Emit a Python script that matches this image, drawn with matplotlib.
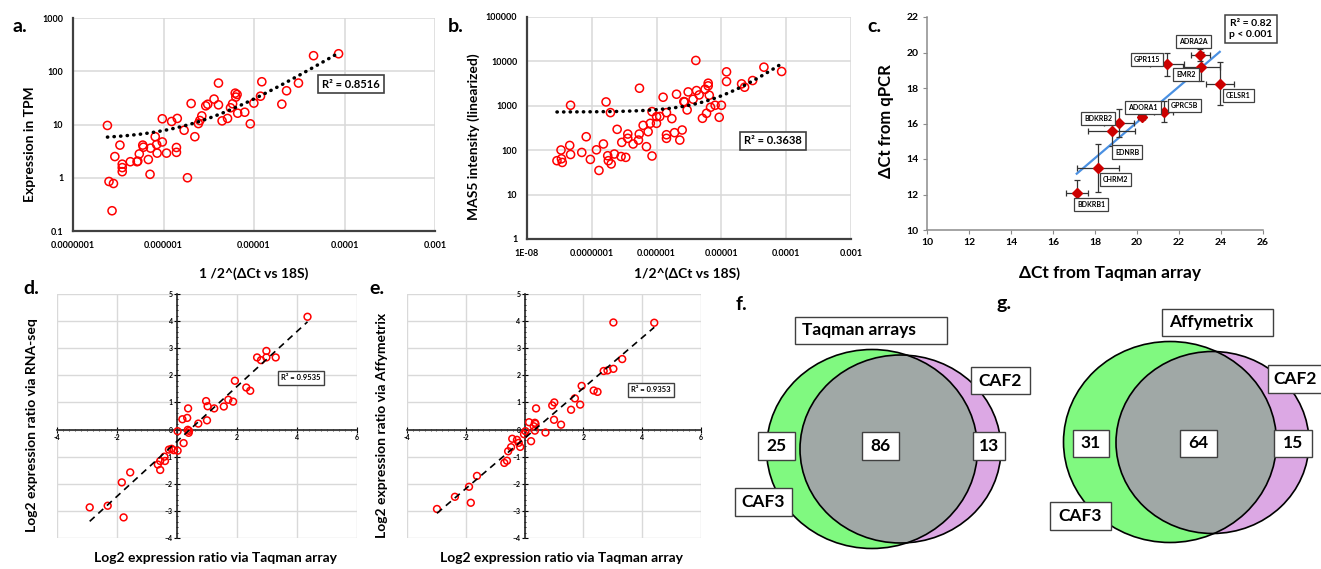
import matplotlib
matplotlib.use("Agg")
from matplotlib import pyplot as plt
from matplotlib.patches import Ellipse, Rectangle
from matplotlib.ticker import NullLocator, MultipleLocator
import numpy as np

plt.rcParams["font.family"] = ["Lato", "DejaVu Sans"]
plt.rcParams["font.weight"] = "bold"

# ---- data ----
# a. RNA-seq TPM vs 1/2^(dCt vs 18S)
a_x = [2.4e-7, 2.5e-7, 2.8e-7, 2.7e-7, 2.9e-7, 3.3e-7, 3.5e-7, 3.5e-7, 3.5e-7, 4.3e-7,
       5.1e-7, 5.2e-7, 5.4e-7, 5.9e-7, 6.0e-7, 6.8e-7, 7.2e-7, 7.1e-7, 8.1e-7, 8.4e-7,
       8.5e-7, 9.7e-7, 9.7e-7, 1.08e-6, 1.23e-6, 1.39e-6, 1.39e-6, 1.42e-6, 1.69e-6, 1.84e-6,
       2.02e-6, 2.22e-6, 2.43e-6, 2.52e-6, 2.65e-6, 2.93e-6, 3.08e-6, 3.62e-6, 4.05e-6, 4.05e-6,
       4.44e-6, 5.1e-6, 5.5e-6, 5.8e-6, 6.2e-6, 6.3e-6, 6.5e-6, 6.6e-6, 7.9e-6, 9.1e-6,
       9.96e-6, 1.18e-5, 1.22e-5, 2.03e-5, 2.29e-5, 3.1e-5, 4.55e-5, 8.6e-5]
a_y = [9.6, 0.85, 0.78, 0.24, 2.5, 4.1, 1.8, 1.55, 1.3, 2.0,
       2.0, 2.05, 2.8, 4.1, 3.75, 2.2, 3.6, 1.16, 5.9, 4.2,
       2.9, 4.7, 12.8, 2.9, 11.4, 3.7, 3.0, 13, 7.8, 1.0,
       24.8, 5.9, 10.4, 11.9, 14.5, 22.4, 24, 30, 23.4, 60,
       11.7, 13, 20.6, 24.5, 38.8, 32.7, 36.6, 16.3, 17, 10.3,
       25.2, 34, 63.5, 24.1, 43, 60, 196, 213]
a_trend = (2.498e6, 5.2)      # linear trend: slope, intercept
a_r2 = "R² = 0.8516"

# b. MAS5 intensity vs 1/2^(dCt vs 18S)
b_x = [2.9e-8, 3.4e-8, 3.5e-8, 3.35e-8, 4.56e-8, 4.7e-8, 4.7e-8, 7.0e-8, 8.2e-8, 9.5e-8,
       1.18e-7, 1.29e-7, 1.51e-7, 1.66e-7, 1.76e-7, 1.8e-7, 1.99e-7, 1.94e-7, 2.23e-7, 2.46e-7,
       2.83e-7, 2.9e-7, 3.34e-7, 3.59e-7, 3.59e-7, 4.34e-7, 5.25e-7, 5.4e-7, 5.44e-7, 6.2e-7,
       6.97e-7, 7.4e-7, 8.0e-7, 8.5e-7, 8.5e-7, 9.96e-7, 1.0e-6, 1.12e-6, 1.26e-6, 1.42e-6,
       1.42e-6, 1.42e-6, 1.72e-6, 1.89e-6, 2.03e-6, 2.28e-6, 2.48e-6, 2.63e-6, 2.7e-6, 2.96e-6,
       3.07e-6, 3.66e-6, 4.03e-6, 4.13e-6, 4.54e-6, 5.1e-6, 5.6e-6, 5.9e-6, 6.25e-6, 6.25e-6,
       6.5e-6, 6.8e-6, 8.0e-6, 9.25e-6, 1.0e-5, 1.2e-5, 1.2e-5, 2.05e-5, 2.28e-5, 3.03e-5,
       4.53e-5, 8.5e-5]
b_y = [58, 64, 53, 101, 128, 80, 1028, 89, 201, 62,
       102, 35, 138, 1222, 75, 58, 49, 702, 82, 295,
       72, 150, 69, 185, 231, 138, 169, 231, 2489, 363,
       120, 261, 403, 74, 740, 403, 570, 575, 1560, 702,
       223, 185, 514, 248, 1823, 169, 285, 1245, 1220, 807,
       2056, 1405, 10500, 2203, 1758, 523, 2360, 678, 3228, 2812,
       1730, 927, 1028, 551, 1028, 5820, 3524, 3119, 2624, 3707,
       7413, 5929]
b_trend = (9.57e7, 723)
b_r2 = "R² = 0.3638"

# c. qPCR vs Taqman array dCt
genes = ["BDKRB1", "CHRM2", "EDNRB", "BDKRB2", "ADORA1", "GPRC5B", "GPR115", "EMR2", "ADRA2A", "CELSR1"]
c_x = [17.13, 18.16, 18.79, 19.15, 20.22, 21.28, 21.44, 23.07, 23.02, 23.94]
c_y = [12.10, 13.48, 15.58, 16.02, 16.39, 16.67, 19.35, 19.21, 19.87, 18.24]
c_xerr = [0.53, 1.0, 1.1, 0.7, 0.15, 0.45, 0.8, 0.87, 0.46, 0.67]
c_yerr = [0.69, 1.34, 0.85, 0.8, 0.15, 0.6, 0.65, 0.8, 0.33, 1.2]
c_stats = "R² = 0.82\np < 0.001"

# d./e. log2 ratios
d_x = [-2.91, -2.31, -1.78, -1.84, -1.56, -0.64, -0.56, -0.56, -0.42, -0.40,
       -0.27, -0.18, -0.11, 0.02, 0.02, 0.18, 0.22, 0.34, 0.37, 0.36,
       0.39, 0.40, 0.71, 0.97, 1.0, 1.02, 1.24, 1.56, 1.71, 1.87,
       1.93, 2.31, 2.44, 2.67, 2.80, 2.98, 2.98, 3.29, 4.35]
d_y = [-2.87, -2.81, -3.24, -1.95, -1.58, -1.29, -1.16, -1.49, -1.0, -1.16,
       -0.74, -0.71, -0.76, -0.78, -0.06, 0.38, -0.50, 0.43, 0.78, -0.01,
       -0.12, -0.05, 0.22, 1.05, 0.34, 0.86, 0.78, 0.85, 1.10, 1.03,
       1.80, 1.55, 1.43, 2.66, 2.56, 2.90, 2.66, 2.66, 4.16]
d_r2 = "R² = 0.9535"
e_x = [-2.98, -2.37, -1.83, -1.89, -1.62, -0.69, -0.60, -0.56, -0.46, -0.42,
       -0.26, -0.20, -0.15, -0.02, 0.03, 0.15, 0.22, 0.31, 0.35, 0.37,
       0.35, 0.39, 0.71, 0.94, 1.01, 1.0, 1.24, 1.58, 1.71, 1.89,
       1.94, 2.35, 2.48, 2.69, 2.82, 3.02, 3.02, 3.32, 4.41]
e_y = [-2.93, -2.48, -2.70, -2.11, -1.71, -1.23, -1.15, -0.80, -0.65, -0.34,
       -0.38, -0.49, -0.64, -0.17, -0.06, 0.27, -0.43, 0.12, 0.25, 0.21,
       -0.04, 0.78, -0.11, 0.89, 1.0, 0.36, 0.18, 0.73, 1.15, 0.92,
       1.61, 1.44, 1.39, 2.16, 2.18, 2.24, 3.95, 2.60, 3.94]
e_r2 = "R² = 0.9353"

# f./g. Venn counts (CAF3 only, both, CAF2 only)
f_counts = [25, 86, 13]
g_counts = [31, 64, 15]
f_title = "Taqman arrays"
g_title = "Affymetrix"

# ---- layout helpers (figure pixels) ----
W, H = 1321, 569
fig = plt.figure(figsize=(W / 100, H / 100), dpi=100)


def rect(l, t, r, b):
    return [l / W, 1 - b / H, (r - l) / W, (b - t) / H]


def ftext(x, y, s, **kw):
    return fig.text(x / W, 1 - y / H, s, **kw)


def excel_log(ax, xt, xl, yt, yl):
    ax.set_xscale("log")
    ax.set_yscale("log")
    ax.set_xlim(xt[0], xt[-1])
    ax.set_ylim(yt[0], yt[-1])
    ax.set_xticks(xt, xl)
    ax.set_yticks(yt, yl)
    ax.xaxis.set_minor_locator(NullLocator())
    ax.yaxis.set_minor_locator(NullLocator())
    ax.grid(True, color="#d9d9d9", lw=1.1)
    ax.set_axisbelow(True)
    for s in ("top", "right"):
        ax.spines[s].set_visible(False)
    for s in ("left", "bottom"):
        ax.spines[s].set_color("#404040")
        ax.spines[s].set_linewidth(1.6)
    ax.tick_params(length=0, labelsize=6.5, pad=7)


def trend_log(ax, xs, tr):
    xx = np.logspace(np.log10(min(xs)), np.log10(max(xs)), 300)
    ax.plot(xx, tr[0] * xx + tr[1], color="black", lw=2.5,
            ls=(0, (0.1, 1.8)), dash_capstyle="round", zorder=4)


boxed = dict(boxstyle="square,pad=0.35", fc="white", ec="#404040", lw=1.2)

# ---- a ----
ax = fig.add_axes(rect(73, 18, 435, 231))
excel_log(ax, [1e-7, 1e-6, 1e-5, 1e-4, 1e-3],
          ["0.0000001", "0.000001", "0.00001", "0.0001", "0.001"],
          [0.1, 1, 10, 100, 1000], ["0.1", "1", "10", "100", "1000"])
ax.scatter(a_x, a_y, s=34, facecolors="none", edgecolors="red", linewidths=1.1, zorder=3)
trend_log(ax, a_x, a_trend)
ftext(351, 84, a_r2, fontsize=8, ha="center", va="center", bbox=boxed)
ftext(30, 144, "Expression in TPM", rotation=90, fontsize=10, ha="center", va="center")
ftext(254, 274, "1 /2^(ΔCt vs 18S)", fontsize=10, ha="center", va="center")
ftext(20, 26, "a.", fontsize=14, ha="center", va="center")

# ---- b ----
ax = fig.add_axes(rect(527, 17, 851, 239))
excel_log(ax, [1e-8, 1e-7, 1e-6, 1e-5, 1e-4, 1e-3],
          ["1E-08", "0.0000001", "0.000001", "0.00001", "0.0001", "0.001"],
          [1, 10, 100, 1000, 10000, 100000], ["1", "10", "100", "1000", "10000", "100000"])
ax.scatter(b_x, b_y, s=34, facecolors="none", edgecolors="red", linewidths=1.1, zorder=3)
trend_log(ax, b_x, b_trend)
ftext(773, 141, b_r2, fontsize=8, ha="center", va="center", bbox=boxed)
ftext(474, 137, "MAS5 intensity (linearized)", rotation=90, fontsize=10, ha="center", va="center")
ftext(687, 274, "1/2^(ΔCt vs 18S)", fontsize=10, ha="center", va="center")
ftext(456, 26, "b.", fontsize=14, ha="center", va="center")

# ---- c ----
ax = fig.add_axes(rect(927, 17, 1263, 230))
ax.set_xlim(10, 26)
ax.set_ylim(10, 22)
ax.set_xticks(range(10, 27, 2))
ax.set_yticks(range(10, 23, 2))
for s in ("top", "right"):
    ax.spines[s].set_visible(False)
for s in ("left", "bottom"):
    ax.spines[s].set_color("#8c8c8c")
    ax.spines[s].set_linewidth(1.1)
ax.tick_params(length=3, color="#8c8c8c", labelsize=7.5, pad=3)
fit = np.polyfit(c_x, c_y, 1)
xx = np.array([min(c_x), max(c_x)])
ax.plot(xx, np.polyval(fit, xx), color="#4a90e2", lw=1.6, zorder=2)
ax.errorbar(c_x, c_y, xerr=c_xerr, yerr=c_yerr, fmt="D", color="#cc0000", ms=5,
            ecolor="#333333", elinewidth=0.9, capsize=2.2, capthick=0.9, zorder=3)
label_off = [(0.69, -0.65), (0.81, -0.63), (0.74, -1.19), (-0.99, 0.25), (0.05, 0.52),
             (0.97, 0.33), (-0.97, 0.26), (-0.74, -0.43), (-0.32, 0.75), (0.87, -0.67)]
for g, x, y, (dx, dy) in zip(genes, c_x, c_y, label_off):
    ax.text(x + dx, y + dy, g, fontsize=5, ha="center", va="center", zorder=5,
            bbox=dict(boxstyle="square,pad=0.45", fc="white", ec="#404040", lw=0.9))
ftext(1251, 29, c_stats, fontsize=7.5, ha="center", va="center", linespacing=1.3,
      bbox=dict(boxstyle="square,pad=0.4", fc="white", ec="#404040", lw=1.1))
ftext(886, 121, "ΔCt from qPCR", rotation=90, fontsize=12, ha="center", va="center")
ftext(1110, 273, "ΔCt from Taqman array", fontsize=12.5, ha="center", va="center")
ftext(874, 26, "c.", fontsize=14, ha="center", va="center")


# ---- d / e ----
def ratio_panel(pos, xs, ys, r2, r2pos, ylab, ylabx, letter, letpos):
    ax = fig.add_axes(rect(*pos))
    ax.set_xlim(-4, 6)
    ax.set_ylim(-4, 5)
    ax.set_xticks([-4, -2, 0, 2, 4, 6], ["-4", "-2", "", "2", "4", "6"])
    ax.set_yticks(range(-4, 6))
    ax.xaxis.set_minor_locator(MultipleLocator(0.2))
    ax.yaxis.set_minor_locator(MultipleLocator(0.2))
    ax.grid(True, color="#d9d9d9", lw=1.0)
    ax.set_axisbelow(True)
    ax.spines["left"].set_position(("data", 0))
    ax.spines["bottom"].set_position(("data", 0))
    for s in ("top", "right"):
        ax.spines[s].set_visible(False)
    for s in ("left", "bottom"):
        ax.spines[s].set_color("#262626")
        ax.spines[s].set_linewidth(1.2)
    ax.tick_params(which="major", length=4, direction="inout", labelsize=5, pad=1)
    ax.tick_params(which="minor", length=2, direction="inout")
    ax.scatter(xs, ys, s=24, facecolors="none", edgecolors="red", linewidths=1.1, zorder=3)
    k = np.polyfit(xs, ys, 1)
    xx = np.array([min(xs), max(xs)])
    ax.plot(xx, np.polyval(k, xx), color="black", lw=1.2, ls=(0, (4, 3)), zorder=4)
    ftext(*r2pos, r2, fontsize=5.5, ha="center", va="center",
          bbox=dict(boxstyle="square,pad=0.4", fc="white", ec="#404040", lw=1.0))
    ftext(ylabx, 425, ylab, rotation=90, fontsize=10, ha="center", va="center")
    ftext((pos[0] + pos[2]) / 2 + 8, 558, "Log2 expression ratio via Taqman array",
          fontsize=10, ha="center", va="center")
    ftext(*letpos, letter, fontsize=14, ha="center", va="center")


ratio_panel((57, 294, 357, 538), d_x, d_y, d_r2, (301, 378),
            "Log2 expression ratio via RNA-seq", 32, "d.", (31, 289))
ratio_panel((407, 294, 701, 538), e_x, e_y, e_r2, (651, 390),
            "Log2 expression ratio via Affymetrix", 382, "e.", (377, 288))

# ---- f / g Venn ----
axv = fig.add_axes(rect(730, 280, 1321, 569))
axv.set_xlim(730, 1321)
axv.set_ylim(569, 280)
axv.axis("off")


def venn(gc, gwh, pc, pwh):
    green = Ellipse(gc, *gwh, fc="#80f980", ec="none")
    purple = Ellipse(pc, *pwh, fc="#dca8e4", ec="none")
    axv.add_patch(green)
    axv.add_patch(purple)
    gray = Ellipse(pc, *pwh, fc="#a0a8a6", ec="none")
    axv.add_patch(gray)
    gray.set_clip_path(green)
    axv.add_patch(Ellipse(gc, *gwh, fc="none", ec="black", lw=1.2))
    axv.add_patch(Ellipse(pc, *pwh, fc="none", ec="black", lw=1.2))


def vbox(l, t, r, b, s, left=False):
    axv.add_patch(Rectangle((l, t), r - l, b - t, fc="white", ec="#404040", lw=1.0, zorder=5))
    if left:
        axv.text(l + 7, (t + b) / 2, s, fontsize=12.5, ha="left", va="center", zorder=6)
    else:
        axv.text((l + r) / 2, (t + b) / 2, s, fontsize=12.5, ha="center", va="center", zorder=6)


venn((872, 449), (211, 199), (900.5, 449), (201, 188))
vbox(795, 317, 947, 344, f_title, left=True)
vbox(758, 432, 795, 460, str(f_counts[0]))
vbox(862, 432, 899, 460, str(f_counts[1]))
vbox(973, 432, 1005, 460, str(f_counts[2]))
vbox(735, 488, 792, 516, "CAF3")
vbox(971, 367, 1030, 394, "CAF2")

venn((1170, 442), (213, 201), (1212.5, 442.5), (193, 182))
vbox(1162, 309, 1273, 336, g_title, left=True)
vbox(1073, 430, 1109, 457, str(g_counts[0]))
vbox(1180, 430, 1217, 457, str(g_counts[1]))
vbox(1274, 430, 1312, 457, str(g_counts[2]))
vbox(1050, 502, 1111, 530, "CAF3")
vbox(1268, 365, 1322, 393, "CAF2")

ftext(741, 305, "f.", fontsize=14, ha="center", va="center")
ftext(1004, 303, "g.", fontsize=14, ha="center", va="center")

fig.savefig("out.png", dpi=100)
